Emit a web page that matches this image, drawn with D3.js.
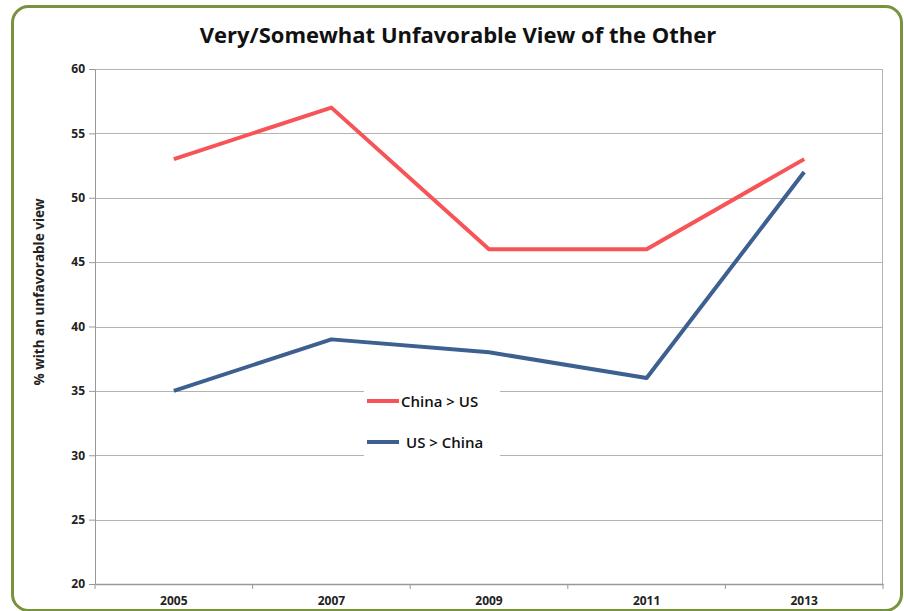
<!DOCTYPE html>
<html>
<head>
<meta charset="utf-8">
<script src="https://cdn.jsdelivr.net/npm/d3@7"></script>
<style>
  body { margin: 0; background: #fff; }
  text { font-family: "Open Sans", "Noto Sans", sans-serif; }
</style>
</head>
<body>
<div id="chart"></div>
<script>
// data
var years = ["2005", "2007", "2009", "2011", "2013"];
var chinaOnUs = [53, 57, 46, 46, 53];
var usOnChina = [35, 39, 38, 36, 52];
var yTicks = [20, 25, 30, 35, 40, 45, 50, 55, 60];
var seriesNames = ["China > US", "US > China"];

var svg__Width = 904;
var svg__Height = 611;

var chart__Margin = { top: 69, right: 21, bottom: 27, left: 95 };
var chart__Width = svg__Width - chart__Margin.left - chart__Margin.right;
var chart__Height = svg__Height - chart__Margin.top - chart__Margin.bottom;

var svg = d3.select("#chart")
  .append("svg")
  .attr("width", svg__Width)
  .attr("height", svg__Height);

// green rounded frame
svg.append("rect")
  .attr("x", 12.5)
  .attr("y", 6.5)
  .attr("width", 889)
  .attr("height", 604)
  .attr("rx", 16)
  .attr("fill", "#fff")
  .attr("stroke", "#77933c")
  .attr("stroke-width", 3);

svg.append("text")
  .attr("x", 458)
  .attr("y", 43)
  .attr("text-anchor", "middle")
  .style("font-size", "22px")
  .style("font-weight", "bold")
  .attr("fill", "#111")
  .text("Very/Somewhat Unfavorable View of the Other");

var chart__Group = svg.append("g")
  .attr("transform", `translate(${chart__Margin.left}, ${chart__Margin.top})`);

var xBand__Scale = d3.scaleBand()
  .domain(years)
  .range([0, chart__Width]);

var yLinear__Scale = d3.scaleLinear()
  .domain([20, 60])
  .range([chart__Height, 0]);

// gridlines
chart__Group.selectAll(".grid")
  .data(yTicks.slice(1))
  .enter()
  .append("line")
  .attr("x1", 0)
  .attr("x2", chart__Width)
  .attr("y1", d => Math.round(yLinear__Scale(d)) + 0.5)
  .attr("y2", d => Math.round(yLinear__Scale(d)) + 0.5)
  .attr("stroke", "#b3b3b3")
  .attr("stroke-width", 1);

// right border of plot
chart__Group.append("line")
  .attr("x1", chart__Width - 0.5).attr("x2", chart__Width - 0.5)
  .attr("y1", 0).attr("y2", chart__Height)
  .attr("stroke", "#b3b3b3");

// left axis
var left__Axis = d3.axisLeft(yLinear__Scale).tickValues(yTicks).tickSize(6).tickPadding(4);
var yAxis = chart__Group.append("g").call(left__Axis);
yAxis.select(".domain").attr("stroke", "#999");
yAxis.selectAll(".tick line").attr("stroke", "#999");
yAxis.selectAll("text")
  .style("font-size", "12px")
  .style("font-weight", "bold")
  .attr("fill", "#222");

// bottom axis, ticks between categories
var bottom__Axis = d3.axisBottom(xBand__Scale).tickSize(0).tickPadding(12);
var xAxis = chart__Group.append("g")
  .attr("transform", `translate(0, ${chart__Height})`)
  .call(bottom__Axis);
xAxis.select(".domain").attr("stroke", "#999").attr("stroke-width", 1.5);
xAxis.selectAll("text")
  .style("font-size", "12px")
  .style("font-weight", "bold")
  .attr("fill", "#222");
xAxis.selectAll(".sep")
  .data(d3.range(years.length + 1))
  .enter()
  .append("line")
  .attr("x1", i => i * xBand__Scale.step())
  .attr("x2", i => i * xBand__Scale.step())
  .attr("y1", 0)
  .attr("y2", 5)
  .attr("stroke", "#999");

// y axis title
svg.append("text")
  .attr("transform", "translate(44, 292) rotate(-90)")
  .attr("text-anchor", "middle")
  .style("font-size", "13.5px")
  .style("font-weight", "bold")
  .attr("fill", "#222")
  .text("% with an unfavorable view");

var line = d3.line()
  .x((d, i) => xBand__Scale(years[i]) + xBand__Scale.bandwidth() / 2)
  .y(d => yLinear__Scale(d));

var colors = ["#f65457", "#3d6090"];
[chinaOnUs, usOnChina].forEach(function(series, k) {
  chart__Group.append("path")
    .datum(series)
    .attr("fill", "none")
    .attr("stroke", colors[k])
    .attr("stroke-width", 4)
    .attr("stroke-linejoin", "round")
    .attr("d", line);
});

// legend
var legend = svg.append("g");
legend.append("rect")
  .attr("x", 364).attr("y", 384).attr("width", 136).attr("height", 72)
  .attr("fill", "#fff");
seriesNames.forEach(function(name, k) {
  var ly = k === 0 ? 401 : 442;
  legend.append("line")
    .attr("x1", 367).attr("x2", 399)
    .attr("y1", ly).attr("y2", ly)
    .attr("stroke", colors[k])
    .attr("stroke-width", 4);
  legend.append("text")
    .attr("x", k === 0 ? 401 : 406)
    .attr("y", ly + 6)
    .style("font-size", "15px")
    .style("font-weight", "600")
    .attr("fill", "#111")
    .text(name);
});
</script>
</body>
</html>
